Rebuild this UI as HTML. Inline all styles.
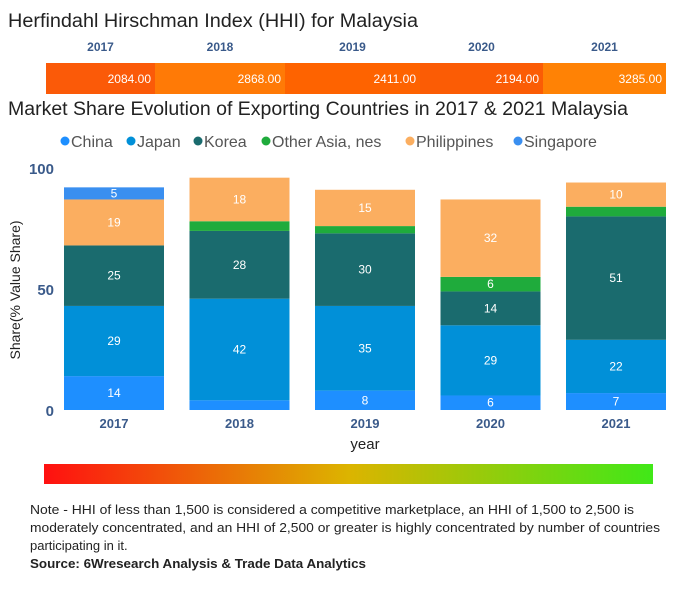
<!DOCTYPE html>
<html><head><meta charset="utf-8"><style>
html,body{margin:0;padding:0;background:#fff;}
svg{display:block;font-family:"Liberation Sans",sans-serif;}
</style></head><body>
<svg id="chart" width="679" height="600" viewBox="0 0 679 600">
<text x="8" y="27" font-size="19" fill="#222" textLength="410" lengthAdjust="spacingAndGlyphs">Herfindahl Hirschman Index (HHI) for Malaysia</text>
<g id="hhi"></g>
<text x="8" y="115" font-size="19" fill="#222" textLength="620" lengthAdjust="spacingAndGlyphs">Market Share Evolution of Exporting Countries in 2017 &amp; 2021 Malaysia</text>
<g id="legend"></g>
<g id="plot"></g>
<text x="20" y="290" font-size="14" fill="#222" text-anchor="middle" transform="rotate(-90 20 290)">Share(% Value Share)</text>
<text x="365" y="449" font-size="15" fill="#222" text-anchor="middle">year</text>
<defs><linearGradient id="grad" x1="0" x2="1" y1="0" y2="0"><stop offset="0" stop-color="#ff1010"/><stop offset="0.5" stop-color="#dcb400"/><stop offset="1" stop-color="#40e818"/></linearGradient></defs>
<rect x="44" y="464" width="609" height="20" fill="url(#grad)"/>
<g font-size="13" fill="#222">
<text x="30" y="514" textLength="604" lengthAdjust="spacingAndGlyphs">Note - HHI of less than 1,500 is considered a competitive marketplace, an HHI of 1,500 to 2,500 is</text>
<text x="30" y="532" textLength="630" lengthAdjust="spacingAndGlyphs">moderately concentrated, and an HHI of 2,500 or greater is highly concentrated by number of countries</text>
<text x="30" y="550">participating in it.</text>
<text x="30" y="568" font-weight="bold" textLength="336" lengthAdjust="spacingAndGlyphs">Source: 6Wresearch Analysis &amp; Trade Data Analytics</text>
</g>
</svg>
<script>
const years = ["2017","2018","2019","2020","2021"];
const hhiValues = [2084, 2868, 2411, 2194, 3285];
const seriesNames = ["China","Japan","Korea","Other Asia, nes","Philippines","Singapore"];
const china = [14, 4, 8, 6, 7];
const japan = [29, 42, 35, 29, 22];
const korea = [25, 28, 30, 14, 51];
const otherAsia = [0, 4, 3, 6, 4];
const philippines = [19, 18, 15, 32, 10];
const singapore = [5, 0, 0, 0, 0];
const yTicks = [0, 50, 100];

const NS = "http://www.w3.org/2000/svg";
function mk(tag, attrs, parent){const e=document.createElementNS(NS,tag);for(const k in attrs)e.setAttribute(k,attrs[k]);parent.appendChild(e);return e;}
const colors = ["#1e8fff","#0190d8","#1a6b6e","#1fab3c","#fbae60","#3a8ff0"];
const series = [china, japan, korea, otherAsia, philippines, singapore];

// HHI strip
const hhi = document.getElementById('hhi');
const hhiEdges = [46,155,285,420,543,666];
const hhiColors = ["#fb5a08","#ff7a06","#fe6300","#fb5c05","#ff8205"];
years.forEach((y,i)=>{
  const cx=(hhiEdges[i]+hhiEdges[i+1])/2;
  const t=mk('text',{x:cx, y:51,'font-size':12,'font-weight':'bold',fill:'#3a5a8a','text-anchor':'middle'},hhi);
  t.textContent=y;
  
  
  const r=mk('rect',{x:hhiEdges[i],y:63,width:hhiEdges[i+1]-hhiEdges[i],height:31,fill:hhiColors[i]},hhi);
  
  
  const v=mk('text',{x:hhiEdges[i+1]-4,y:83,'font-size':12,fill:'#fff','text-anchor':'end'},hhi);
  v.textContent=hhiValues[i].toFixed(2);
  
  
});

// legend
const lg=document.getElementById('legend');
const legX=[61,127,194,262,406,514];
seriesNames.forEach((n,i)=>{
  const g=mk('g',{},lg);
  
  
  mk('circle',{cx:legX[i]+4,cy:141,r:4.5,fill:colors[i]},g);
  const t=mk('text',{x:legX[i]+10,y:147,'font-size':16,fill:'#555'},g);
  t.textContent=n;
});

// plot
const plot=document.getElementById('plot');
const y0=410, pxPerUnit=2.42;
const yScale=v=>y0-v*pxPerUnit;
const barW=100, firstX=64, pitch=125.5;
const xScale=i=>firstX+i*pitch;
yTicks.forEach(v=>{
  const t=mk('text',{x:54,y:yScale(v)+6,'font-size':15,'font-weight':'bold',fill:'#3a5a8a','text-anchor':'end'},plot);
  t.textContent=v;
  
  
});
years.forEach((y,i)=>{
  let cum=0;
  series.forEach((s,k)=>{
    const v=s[i]; if(!v) return;
    const top=yScale(cum+v), bot=yScale(cum);
    const r=mk('rect',{x:xScale(i),y:top,width:barW,height:bot-top,fill:colors[k]},plot);
    
    
    if(v>=5){
      const t=mk('text',{x:xScale(i)+barW/2,y:(top+bot)/2+4,'font-size':12,fill:'#fff','text-anchor':'middle'},plot);
      t.textContent=v;
      
      
    }
    cum+=v;
  });
  const t=mk('text',{x:xScale(i)+barW/2,y:428,'font-size':13,'font-weight':'bold',fill:'#3a5a8a','text-anchor':'middle'},plot);
  t.textContent=y;
  
  
});
</script>
</body></html>
